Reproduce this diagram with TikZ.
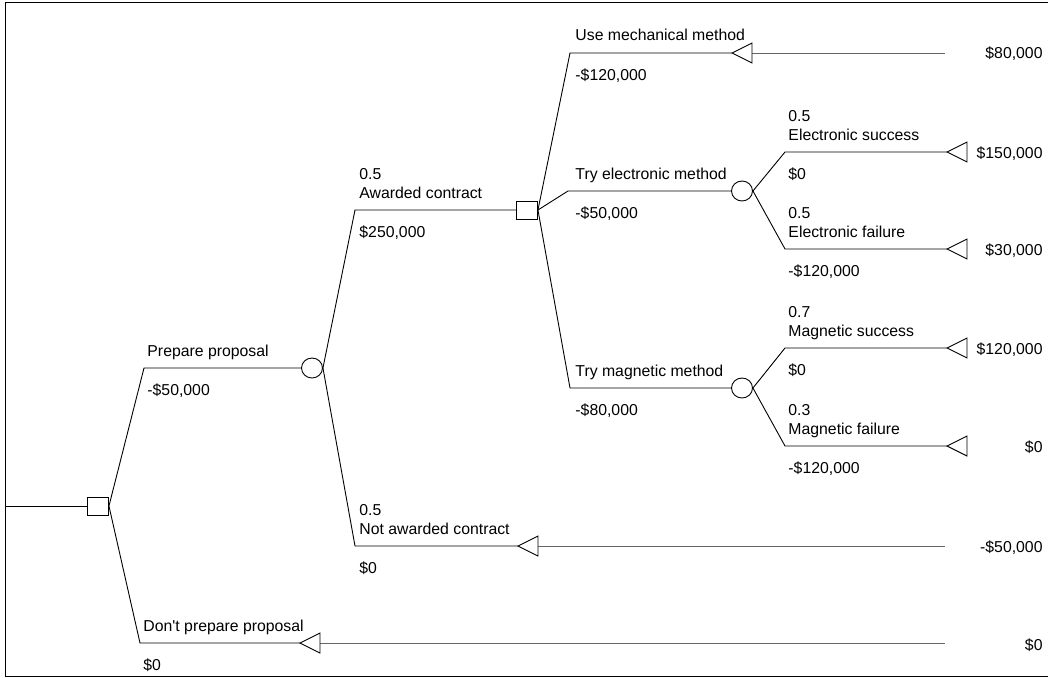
\documentclass[tikz,border=0pt]{standalone}
\usepackage{fontspec}
\setmainfont{Liberation Sans}[Ligatures=TeXOff]
\usetikzlibrary{shapes.geometric}
% terminal triangle: tip at the coordinate, pointing left
\newcommand{\payofftri}[1]{\draw[fill=white] (#1) -- ++(20,-10) -- ++(0,20) -- cycle;}
\begin{document}
\begin{tikzpicture}[x=1pt,y=-1pt,
  line width=0.9pt,
  every node/.style={font=\fontsize{15.8}{19}\selectfont, inner sep=0pt},
  decision/.style={draw, fill=white, rectangle, minimum width=21pt, minimum height=18pt},
  chance/.style={draw, fill=white, ellipse, minimum width=21pt, minimum height=20pt},
  branch/.style={draw=black},
  tail/.style={draw=black!60, line width=0.8pt},
  lbl/.style={anchor=base west},
  val/.style={anchor=base east},
]
\useasboundingbox (0,0) rectangle (1048,677);
% frame
\draw[line width=1pt] (1048,2.5) -- (5,2.5) -- (5,676) -- (1048,676);

% nodes
\node[decision] (d1) at (98,506) {};
\node[chance]   (c1) at (312,368) {};
\node[decision] (d2) at (527,210) {};
\node[chance]   (c2) at (742,191) {};
\node[chance]   (c3) at (742,388) {};

% elbow points and terminal points
\coordinate (root) at (5,506);
\coordinate (eP) at (144,368);
\coordinate (eD) at (140,643);
\coordinate (eA) at (355,210);
\coordinate (eN) at (355,546);
\coordinate (eM) at (570,53);
\coordinate (eE) at (568,191);
\coordinate (eG) at (570,388);
\coordinate (eES) at (785,152);
\coordinate (eEF) at (785,249);
\coordinate (eGS) at (785,348);
\coordinate (eGF) at (785,446);

\coordinate (tD) at (300,643);
\coordinate (tN) at (518,546);
\coordinate (tM) at (732,53);
\coordinate (tES) at (947,152);
\coordinate (tEF) at (947,249);
\coordinate (tGS) at (947,348);
\coordinate (tGF) at (947,446);

\coordinate (fD) at (945,643);
\coordinate (fN) at (945,546);
\coordinate (fM) at (945,53);

% branches
\draw[branch] (root) -- (d1.west);
\draw[branch] (d1.east) -- (eP) -- (c1.west);
\draw[branch] (d1.east) -- (eD) -- (tD);
\draw[branch] (c1.east) -- (eA) -- (d2.west);
\draw[branch] (c1.east) -- (eN) -- (tN);
\draw[branch] (d2.east) -- (eM) -- (tM);
\draw[branch] (d2.east) -- (eE) -- (c2.west);
\draw[branch] (d2.east) -- (eG) -- (c3.west);
\draw[branch] (c2.east) -- (eES) -- (tES);
\draw[branch] (c2.east) -- (eEF) -- (tEF);
\draw[branch] (c3.east) -- (eGS) -- (tGS);
\draw[branch] (c3.east) -- (eGF) -- (tGF);

% tails past the end triangles
\draw[tail] ([xshift=20pt]tD) -- (fD);
\draw[tail] ([xshift=20pt]tN) -- (fN);
\draw[tail] ([xshift=20pt]tM) -- (fM);

% end triangles
\payofftri{tD}
\payofftri{tN}
\payofftri{tM}
\payofftri{tES}
\payofftri{tEF}
\payofftri{tGS}
\payofftri{tGF}

% branch labels
\node[lbl] (lP)  at ([shift={(3,-12)}]eP) {Prepare proposal};
\node[lbl] (vP)  at ([shift={(3,27)}]eP) {-\$50,000};
\node[lbl] (lD)  at ([shift={(3,-12)}]eD) {Don't prepare proposal};
\node[lbl] (vD)  at ([shift={(3,27)}]eD) {\$0};

\node[lbl] (pA)  at ([shift={(4,-31)}]eA) {0.5};
\node[lbl] (lA)  at ([shift={(4,-12)}]eA) {Awarded contract};
\node[lbl] (vA)  at ([shift={(4,27)}]eA) {\$250,000};
\node[lbl] (pN)  at ([shift={(4,-31)}]eN) {0.5};
\node[lbl] (lN)  at ([shift={(4,-12)}]eN) {Not awarded contract};
\node[lbl] (vN)  at ([shift={(4,27)}]eN) {\$0};

\node[lbl] (lM)  at ([shift={(5,-12)}]eM) {Use mechanical method};
\node[lbl] (vM)  at ([shift={(5,27)}]eM) {-\$120,000};
\node[lbl] (lE)  at ([shift={(7,-12)}]eE) {Try electronic method};
\node[lbl] (vE)  at ([shift={(7,27)}]eE) {-\$50,000};
\node[lbl] (lG)  at ([shift={(5,-12)}]eG) {Try magnetic method};
\node[lbl] (vG)  at ([shift={(5,27)}]eG) {-\$80,000};

\node[lbl] (pES) at ([shift={(3,-31)}]eES) {0.5};
\node[lbl] (lES) at ([shift={(3,-12)}]eES) {Electronic success};
\node[lbl] (vES) at ([shift={(3,27)}]eES) {\$0};
\node[lbl] (pEF) at ([shift={(3,-31)}]eEF) {0.5};
\node[lbl] (lEF) at ([shift={(3,-12)}]eEF) {Electronic failure};
\node[lbl] (vEF) at ([shift={(3,27)}]eEF) {-\$120,000};
\node[lbl] (pGS) at ([shift={(3,-31)}]eGS) {0.7};
\node[lbl] (lGS) at ([shift={(3,-12)}]eGS) {Magnetic success};
\node[lbl] (vGS) at ([shift={(3,27)}]eGS) {\$0};
\node[lbl] (pGF) at ([shift={(3,-31)}]eGF) {0.3};
\node[lbl] (lGF) at ([shift={(3,-12)}]eGF) {Magnetic failure};
\node[lbl] (vGF) at ([shift={(3,27)}]eGF) {-\$120,000};

% payoffs
\node[val] (rM)  at (1043,59)  {\$80,000};
\node[val] (rES) at (1043,158) {\$150,000};
\node[val] (rEF) at (1043,255) {\$30,000};
\node[val] (rGS) at (1043,354) {\$120,000};
\node[val] (rGF) at (1043,452) {\$0};
\node[val] (rN)  at (1043,552) {-\$50,000};
\node[val] (rD)  at (1043,650) {\$0};
\end{tikzpicture}
\end{document}
